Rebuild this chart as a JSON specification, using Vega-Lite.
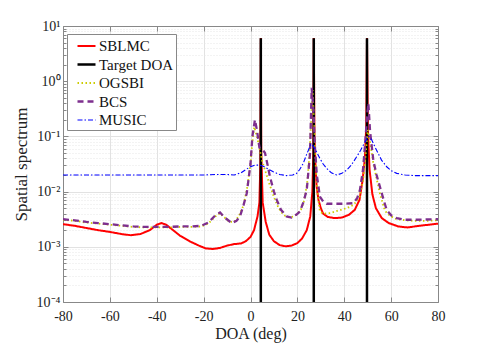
{
"$schema":"https://vega.github.io/schema/vega-lite/v6.json",
"width":375,"height":276,
"autosize":{"type":"none"},
"padding":{"left":63,"top":26,"right":47,"bottom":46},
"background":"white",
"config":{"font":"Liberation Serif","view":{"stroke":null},
 "axis":{"labelFont":"Liberation Serif","titleFont":"Liberation Serif","labelFontSize":14,"titleFontSize":17,"titleFontWeight":"normal","labelColor":"#222","titleColor":"#222","domainColor":"#888","tickColor":"#888","gridColor":"#e2e2e2","gridOpacity":1},
 "legend":{"labelFont":"Liberation Serif"}},
"data":{"values":[
{"method":"SBLMC","doa":-80,"value":0.00257},{"method":"SBLMC","doa":-75,"value":0.0024},{"method":"SBLMC","doa":-70,"value":0.00219},{"method":"SBLMC","doa":-65,"value":0.002},{"method":"SBLMC","doa":-60,"value":0.00186},{"method":"SBLMC","doa":-55,"value":0.0017},{"method":"SBLMC","doa":-51,"value":0.00162},{"method":"SBLMC","doa":-47,"value":0.0017},{"method":"SBLMC","doa":-43,"value":0.002},{"method":"SBLMC","doa":-40,"value":0.00251},{"method":"SBLMC","doa":-38,"value":0.00269},{"method":"SBLMC","doa":-36,"value":0.00251},{"method":"SBLMC","doa":-33,"value":0.002},{"method":"SBLMC","doa":-30,"value":0.00158},{"method":"SBLMC","doa":-26,"value":0.00126},{"method":"SBLMC","doa":-22,"value":0.00105},{"method":"SBLMC","doa":-19,"value":0.000933},{"method":"SBLMC","doa":-16,"value":0.000912},{"method":"SBLMC","doa":-13,"value":0.000955},{"method":"SBLMC","doa":-10,"value":0.00105},{"method":"SBLMC","doa":-7,"value":0.00112},{"method":"SBLMC","doa":-4,"value":0.00115},{"method":"SBLMC","doa":-2,"value":0.00126},{"method":"SBLMC","doa":0,"value":0.00151},{"method":"SBLMC","doa":1.5,"value":0.002},{"method":"SBLMC","doa":3,"value":0.00355},{"method":"SBLMC","doa":3.8,"value":0.00631},{"method":"SBLMC","doa":4.2,"value":0.0316},{"method":"SBLMC","doa":4.4,"value":6.03},{"method":"SBLMC","doa":4.6,"value":0.0501},{"method":"SBLMC","doa":5.2,"value":0.00631},{"method":"SBLMC","doa":6.5,"value":0.00282},{"method":"SBLMC","doa":8,"value":0.00166},{"method":"SBLMC","doa":10,"value":0.00126},{"method":"SBLMC","doa":12.5,"value":0.00107},{"method":"SBLMC","doa":15,"value":0.00102},{"method":"SBLMC","doa":17.5,"value":0.00105},{"method":"SBLMC","doa":20,"value":0.00117},{"method":"SBLMC","doa":22,"value":0.00141},{"method":"SBLMC","doa":24,"value":0.002},{"method":"SBLMC","doa":25.5,"value":0.00355},{"method":"SBLMC","doa":26.4,"value":0.01},{"method":"SBLMC","doa":26.8,"value":0.0501},{"method":"SBLMC","doa":27,"value":6.03},{"method":"SBLMC","doa":27.3,"value":0.1},{"method":"SBLMC","doa":27.7,"value":0.0316},{"method":"SBLMC","doa":28.2,"value":0.0126},{"method":"SBLMC","doa":29,"value":0.00708},{"method":"SBLMC","doa":30,"value":0.00501},{"method":"SBLMC","doa":31,"value":0.00398},{"method":"SBLMC","doa":33,"value":0.00347},{"method":"SBLMC","doa":36,"value":0.00331},{"method":"SBLMC","doa":39,"value":0.00339},{"method":"SBLMC","doa":42,"value":0.0038},{"method":"SBLMC","doa":44.5,"value":0.00468},{"method":"SBLMC","doa":46.5,"value":0.00708},{"method":"SBLMC","doa":47.8,"value":0.0158},{"method":"SBLMC","doa":48.8,"value":0.0398},{"method":"SBLMC","doa":49.4,"value":0.158},{"method":"SBLMC","doa":49.7,"value":6.03},{"method":"SBLMC","doa":50.1,"value":0.126},{"method":"SBLMC","doa":50.8,"value":0.0251},{"method":"SBLMC","doa":52,"value":0.00891},{"method":"SBLMC","doa":53.5,"value":0.00501},{"method":"SBLMC","doa":56,"value":0.00331},{"method":"SBLMC","doa":59,"value":0.00269},{"method":"SBLMC","doa":63,"value":0.00234},{"method":"SBLMC","doa":67,"value":0.00224},{"method":"SBLMC","doa":72,"value":0.0024},{"method":"SBLMC","doa":76,"value":0.00251},{"method":"SBLMC","doa":80,"value":0.00263},
{"method":"Target DOA","doa":4.4,"value":0.0001,"peak":1},{"method":"Target DOA","doa":4.4,"value":6.03,"peak":1},{"method":"Target DOA","doa":27,"value":0.0001,"peak":2},{"method":"Target DOA","doa":27,"value":6.03,"peak":2},{"method":"Target DOA","doa":49.7,"value":0.0001,"peak":3},{"method":"Target DOA","doa":49.7,"value":6.03,"peak":3},
{"method":"OGSBI","doa":-80,"value":0.00309},{"method":"OGSBI","doa":-75,"value":0.00295},{"method":"OGSBI","doa":-70,"value":0.00275},{"method":"OGSBI","doa":-65,"value":0.00263},{"method":"OGSBI","doa":-60,"value":0.00251},{"method":"OGSBI","doa":-55,"value":0.0024},{"method":"OGSBI","doa":-50,"value":0.00229},{"method":"OGSBI","doa":-45,"value":0.00224},{"method":"OGSBI","doa":-40,"value":0.00224},{"method":"OGSBI","doa":-35,"value":0.00224},{"method":"OGSBI","doa":-30,"value":0.00229},{"method":"OGSBI","doa":-25,"value":0.00229},{"method":"OGSBI","doa":-21,"value":0.00234},{"method":"OGSBI","doa":-18,"value":0.00263},{"method":"OGSBI","doa":-15,"value":0.00355},{"method":"OGSBI","doa":-13,"value":0.00407},{"method":"OGSBI","doa":-11,"value":0.00339},{"method":"OGSBI","doa":-9,"value":0.00282},{"method":"OGSBI","doa":-7,"value":0.00282},{"method":"OGSBI","doa":-5,"value":0.00355},{"method":"OGSBI","doa":-3,"value":0.00562},{"method":"OGSBI","doa":-1.5,"value":0.0112},{"method":"OGSBI","doa":0,"value":0.0316},{"method":"OGSBI","doa":0.8,"value":0.0794},{"method":"OGSBI","doa":1.6,"value":0.148},{"method":"OGSBI","doa":2.4,"value":0.112},{"method":"OGSBI","doa":3,"value":0.0891},{"method":"OGSBI","doa":4,"value":0.0562},{"method":"OGSBI","doa":5,"value":0.0355},{"method":"OGSBI","doa":6.2,"value":0.0245},{"method":"OGSBI","doa":8,"value":0.0141},{"method":"OGSBI","doa":10,"value":0.00794},{"method":"OGSBI","doa":12,"value":0.00501},{"method":"OGSBI","doa":14,"value":0.0038},{"method":"OGSBI","doa":16.5,"value":0.00339},{"method":"OGSBI","doa":18.5,"value":0.00355},{"method":"OGSBI","doa":20,"value":0.00398},{"method":"OGSBI","doa":21.5,"value":0.00468},{"method":"OGSBI","doa":23,"value":0.00708},{"method":"OGSBI","doa":24.3,"value":0.0158},{"method":"OGSBI","doa":25.2,"value":0.0501},{"method":"OGSBI","doa":26.5,"value":0.692},{"method":"OGSBI","doa":27.2,"value":0.158},{"method":"OGSBI","doa":27.8,"value":0.0316},{"method":"OGSBI","doa":28.5,"value":0.01},{"method":"OGSBI","doa":29.6,"value":0.00437},{"method":"OGSBI","doa":31,"value":0.00398},{"method":"OGSBI","doa":34,"value":0.00407},{"method":"OGSBI","doa":37,"value":0.00447},{"method":"OGSBI","doa":41,"value":0.00501},{"method":"OGSBI","doa":44,"value":0.00575},{"method":"OGSBI","doa":46.5,"value":0.00794},{"method":"OGSBI","doa":48.1,"value":0.0162},{"method":"OGSBI","doa":49,"value":0.0398},{"method":"OGSBI","doa":50,"value":0.132},{"method":"OGSBI","doa":51,"value":0.0794},{"method":"OGSBI","doa":52.4,"value":0.0324},{"method":"OGSBI","doa":54,"value":0.0158},{"method":"OGSBI","doa":55.2,"value":0.00933},{"method":"OGSBI","doa":57,"value":0.00501},{"method":"OGSBI","doa":58.1,"value":0.00407},{"method":"OGSBI","doa":60,"value":0.00355},{"method":"OGSBI","doa":62.4,"value":0.00316},{"method":"OGSBI","doa":66,"value":0.00302},{"method":"OGSBI","doa":70,"value":0.00295},{"method":"OGSBI","doa":75,"value":0.00295},{"method":"OGSBI","doa":80,"value":0.00302},
{"method":"BCS","doa":-80,"value":0.00316},{"method":"BCS","doa":-75,"value":0.00302},{"method":"BCS","doa":-70,"value":0.00282},{"method":"BCS","doa":-65,"value":0.00269},{"method":"BCS","doa":-60,"value":0.00257},{"method":"BCS","doa":-55,"value":0.00245},{"method":"BCS","doa":-50,"value":0.00234},{"method":"BCS","doa":-45,"value":0.00229},{"method":"BCS","doa":-40,"value":0.00229},{"method":"BCS","doa":-35,"value":0.00229},{"method":"BCS","doa":-30,"value":0.00234},{"method":"BCS","doa":-25,"value":0.00234},{"method":"BCS","doa":-21,"value":0.0024},{"method":"BCS","doa":-18,"value":0.00275},{"method":"BCS","doa":-15,"value":0.00372},{"method":"BCS","doa":-13,"value":0.00417},{"method":"BCS","doa":-11,"value":0.00339},{"method":"BCS","doa":-8,"value":0.00269},{"method":"BCS","doa":-6,"value":0.00295},{"method":"BCS","doa":-4.5,"value":0.00355},{"method":"BCS","doa":-3,"value":0.00562},{"method":"BCS","doa":-1.6,"value":0.00933},{"method":"BCS","doa":0,"value":0.0316},{"method":"BCS","doa":0.8,"value":0.1},{"method":"BCS","doa":1.9,"value":0.2},{"method":"BCS","doa":2.8,"value":0.126},{"method":"BCS","doa":3.8,"value":0.0631},{"method":"BCS","doa":5,"value":0.0589},{"method":"BCS","doa":6.2,"value":0.0501},{"method":"BCS","doa":7.2,"value":0.0316},{"method":"BCS","doa":8.3,"value":0.0186},{"method":"BCS","doa":10,"value":0.01},{"method":"BCS","doa":11.2,"value":0.00708},{"method":"BCS","doa":13,"value":0.00468},{"method":"BCS","doa":15.4,"value":0.00355},{"method":"BCS","doa":17.5,"value":0.00339},{"method":"BCS","doa":19.5,"value":0.0038},{"method":"BCS","doa":21.1,"value":0.00437},{"method":"BCS","doa":22.5,"value":0.00631},{"method":"BCS","doa":24,"value":0.0107},{"method":"BCS","doa":25.4,"value":0.049},{"method":"BCS","doa":26.1,"value":0.759},{"method":"BCS","doa":26.8,"value":0.316},{"method":"BCS","doa":27.5,"value":0.0631},{"method":"BCS","doa":28.3,"value":0.02},{"method":"BCS","doa":29.6,"value":0.00813},{"method":"BCS","doa":31,"value":0.00661},{"method":"BCS","doa":32.5,"value":0.00603},{"method":"BCS","doa":36,"value":0.00603},{"method":"BCS","doa":40,"value":0.00603},{"method":"BCS","doa":43.9,"value":0.00617},{"method":"BCS","doa":45.5,"value":0.00759},{"method":"BCS","doa":46.7,"value":0.0107},{"method":"BCS","doa":48,"value":0.0251},{"method":"BCS","doa":48.8,"value":0.0646},{"method":"BCS","doa":49.8,"value":0.251},{"method":"BCS","doa":50.3,"value":0.398},{"method":"BCS","doa":51,"value":0.126},{"method":"BCS","doa":52.4,"value":0.0372},{"method":"BCS","doa":53.8,"value":0.02},{"method":"BCS","doa":55.2,"value":0.0123},{"method":"BCS","doa":56.8,"value":0.00708},{"method":"BCS","doa":58.1,"value":0.00468},{"method":"BCS","doa":60,"value":0.00372},{"method":"BCS","doa":62.4,"value":0.00331},{"method":"BCS","doa":66,"value":0.00309},{"method":"BCS","doa":70,"value":0.00309},{"method":"BCS","doa":80,"value":0.00316},
{"method":"MUSIC","doa":-80,"value":0.02},{"method":"MUSIC","doa":-60,"value":0.02},{"method":"MUSIC","doa":-40,"value":0.02},{"method":"MUSIC","doa":-20,"value":0.02},{"method":"MUSIC","doa":-15,"value":0.0204},{"method":"MUSIC","doa":-10,"value":0.0204},{"method":"MUSIC","doa":-7,"value":0.02},{"method":"MUSIC","doa":-4,"value":0.0219},{"method":"MUSIC","doa":-2,"value":0.0251},{"method":"MUSIC","doa":0,"value":0.0282},{"method":"MUSIC","doa":2,"value":0.0302},{"method":"MUSIC","doa":3.3,"value":0.0302},{"method":"MUSIC","doa":5,"value":0.0295},{"method":"MUSIC","doa":7.5,"value":0.0257},{"method":"MUSIC","doa":9.7,"value":0.0229},{"method":"MUSIC","doa":12.5,"value":0.0204},{"method":"MUSIC","doa":15.4,"value":0.0195},{"method":"MUSIC","doa":18,"value":0.02},{"method":"MUSIC","doa":19.7,"value":0.0214},{"method":"MUSIC","doa":21,"value":0.0251},{"method":"MUSIC","doa":22.5,"value":0.0324},{"method":"MUSIC","doa":24,"value":0.0479},{"method":"MUSIC","doa":24.7,"value":0.0562},{"method":"MUSIC","doa":25.7,"value":0.0724},{"method":"MUSIC","doa":26.5,"value":0.0692},{"method":"MUSIC","doa":27.3,"value":0.0603},{"method":"MUSIC","doa":28.2,"value":0.0525},{"method":"MUSIC","doa":29.6,"value":0.0398},{"method":"MUSIC","doa":31,"value":0.0316},{"method":"MUSIC","doa":32.5,"value":0.0263},{"method":"MUSIC","doa":34.5,"value":0.0219},{"method":"MUSIC","doa":36.8,"value":0.02},{"method":"MUSIC","doa":39,"value":0.0214},{"method":"MUSIC","doa":41,"value":0.0245},{"method":"MUSIC","doa":43,"value":0.0302},{"method":"MUSIC","doa":45.3,"value":0.0427},{"method":"MUSIC","doa":47,"value":0.0562},{"method":"MUSIC","doa":48.1,"value":0.0692},{"method":"MUSIC","doa":49.3,"value":0.0851},{"method":"MUSIC","doa":50.5,"value":0.1},{"method":"MUSIC","doa":51.7,"value":0.0871},{"method":"MUSIC","doa":53.1,"value":0.0646},{"method":"MUSIC","doa":54.5,"value":0.049},{"method":"MUSIC","doa":55.9,"value":0.0372},{"method":"MUSIC","doa":58.1,"value":0.0282},{"method":"MUSIC","doa":60,"value":0.024},{"method":"MUSIC","doa":62.4,"value":0.0214},{"method":"MUSIC","doa":66,"value":0.02},{"method":"MUSIC","doa":70,"value":0.0195},{"method":"MUSIC","doa":80,"value":0.0195}
]},
"layer":[
{"mark":{"type":"point","opacity":0},
 "encoding":{
  "x":{"field":"doa","type":"quantitative","scale":{"domain":[-80,80],"nice":false,"zero":false},
       "axis":{"orient":"top","labels":false,"grid":false,"title":null,"values":[-80,-60,-40,-20,0,20,40,60,80],"tickSize":-5}},
  "y":{"field":"value","type":"quantitative","scale":{"type":"log","domain":[0.0001,10],"nice":false},
       "axis":{"orient":"left","labels":false,"title":null,"domain":false,"grid":true,"gridDash":[1,2],"gridColor":"#e6e6e6","tickSize":-3,
       "values":[0.0002,0.0003,0.0004,0.0005,0.0006,0.0007,0.0008,0.0009,0.002,0.003,0.004,0.005,0.006,0.007,0.008,0.009,0.02,0.03,0.04,0.05,0.06,0.07,0.08,0.09,0.2,0.3,0.4,0.5,0.6,0.7,0.8,0.9,2,3,4,5,6,7,8,9]}}}},
{"mark":{"type":"point","opacity":0},
 "encoding":{
  "x":{"field":"doa","type":"quantitative","axis":null},
  "y":{"field":"value","type":"quantitative",
       "axis":{"orient":"right","labels":false,"title":null,"grid":false,"tickSize":-5,"values":[0.0001,0.001,0.01,0.1,1,10]}}}},
{"mark":{"type":"point","opacity":0},
 "encoding":{
  "x":{"field":"doa","type":"quantitative","axis":null},
  "y":{"field":"value","type":"quantitative",
       "axis":{"orient":"right","labels":false,"title":null,"grid":false,"domain":false,"tickSize":-3,
       "values":[0.0002,0.0003,0.0004,0.0005,0.0006,0.0007,0.0008,0.0009,0.002,0.003,0.004,0.005,0.006,0.007,0.008,0.009,0.02,0.03,0.04,0.05,0.06,0.07,0.08,0.09,0.2,0.3,0.4,0.5,0.6,0.7,0.8,0.9,2,3,4,5,6,7,8,9]}}}},
{"mark":{"type":"line","clip":true},
 "encoding":{
  "x":{"field":"doa","type":"quantitative","title":"DOA (deg)",
       "axis":{"orient":"bottom","values":[-80,-60,-40,-20,0,20,40,60,80],"grid":true,"tickSize":-5,"labelPadding":12,"labelFlush":false,
       "titleY":23,"titleBaseline":"top","titleFontSize":16,
       "labelFont":"Liberation Serif","labelExpr":"'' + datum.value"}},
  "y":{"field":"value","type":"quantitative","title":"Spatial spectrum",
       "axis":{"orient":"left","values":[0.0001,0.001,0.01,0.1,1,10],"grid":true,"tickSize":-5,"labelPadding":8,"titlePadding":6,"labelFlush":false,
       "labelFont":"Liberation Serif",
       "labelExpr":"'10' + replace(replace(replace(replace(replace(replace(''+round(log(datum.value)/LN10),'-','⁻'),'0','⁰'),'1','¹'),'2','²'),'3','³'),'4','⁴')"}},
  "detail":{"field":"peak"},
  "color":{"field":"method","type":"nominal","scale":{"domain":["SBLMC","Target DOA","OGSBI","BCS","MUSIC"],"range":["#ff0000","#000000","#cccc00","#7e2f8e","#0000ff"]},
       "legend":{"title":null,"orient":"none","legendX":4,"legendY":8,"labelFont":"Liberation Serif","labelFontSize":15,"labelColor":"#111","symbolType":"stroke","symbolSize":324,"symbolStrokeWidth":1.8,"symbolOffset":7,"strokeColor":"#888","fillColor":"white","padding":2,"rowPadding":0,"labelOffset":2}},
  "strokeDash":{"field":"method","type":"nominal","scale":{"domain":["SBLMC","Target DOA","OGSBI","BCS","MUSIC"],"range":[[1,0],[1,0],[1.5,2.5],[6,4],[5,2,1.5,2]]},
       "legend":{"title":null,"orient":"none","legendX":4,"legendY":8,"labelFont":"Liberation Serif","labelFontSize":15,"labelColor":"#111","symbolType":"stroke","symbolSize":324,"symbolStrokeWidth":1.8,"symbolOffset":7,"strokeColor":"#888","fillColor":"white","padding":2,"rowPadding":0,"labelOffset":2}},
  "strokeWidth":{"field":"method","type":"nominal","scale":{"type":"ordinal","domain":["SBLMC","Target DOA","OGSBI","BCS","MUSIC"],"range":[2,2.5,1.8,2.3,1.1]},"legend":null}
 }}
],
"resolve":{"axis":{"x":"independent","y":"independent"}}
}
